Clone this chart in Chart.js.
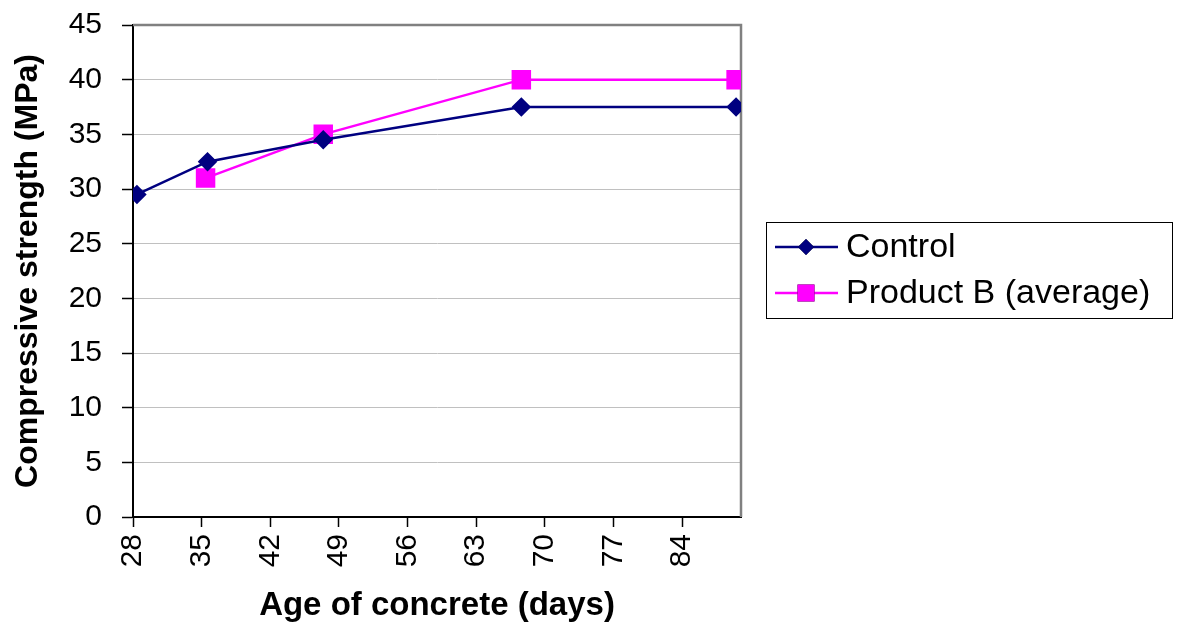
<!DOCTYPE html>
<html>
<head>
<meta charset="utf-8">
<title>Compressive strength</title>
<script src="https://cdn.jsdelivr.net/npm/chart.js@4/dist/chart.umd.min.js"></script>
<style>
  body { margin: 0; background: #fff; }
  #wrap { width: 1180px; height: 628px; }
</style>
</head>
<body>
<div id="wrap"><canvas id="lineChart" width="1180" height="628"></canvas></div>
<script>
// Data
var controlDays = [28.4, 35.6, 47.4, 67.6, 89.5];
var controlValues = [29.5, 32.5, 34.5, 37.5, 37.5];
var productDays = [35.4, 47.4, 67.6, 89.5];
var productValues = [31, 35, 40, 40];
var seriesNames = ['Control', 'Product B (average)'];

var FONT = "'Liberation Sans', Arial, sans-serif";

function toPoints(xs, ys) {
    return xs.map(function (x, i) { return { x: x, y: ys[i] }; });
}

// Gray top/right frame of the plot area
var frame = {
    id: 'frame',
    beforeDatasetsDraw: function (chart) {
        var a = chart.chartArea, ctx = chart.ctx;
        ctx.save();
        ctx.strokeStyle = '#808080';
        ctx.lineWidth = 2.5;
        ctx.beginPath();
        ctx.moveTo(a.left, a.top);
        ctx.lineTo(a.right, a.top);
        ctx.lineTo(a.right, a.bottom);
        ctx.stroke();
        ctx.restore();
    }
};

// Boxed legend on the right
var boxLegend = {
    id: 'boxLegend',
    afterDraw: function (chart) {
        var ctx = chart.ctx;
        var x = 766, y = 222, w = 406, h = 96;
        ctx.save();
        ctx.strokeStyle = '#000';
        ctx.lineWidth = 1;
        ctx.strokeRect(x + 0.5, y + 0.5, w, h);
        chart.data.datasets.forEach(function (ds, i) {
            var cy = y + 25 + i * 46;
            ctx.strokeStyle = ds.borderColor;
            ctx.lineWidth = 2.5;
            ctx.beginPath();
            ctx.moveTo(775, cy);
            ctx.lineTo(838, cy);
            ctx.stroke();
            Chart.helpers.drawPoint(ctx, {
                pointStyle: ds.pointStyle,
                radius: ds.pointRadius,
                borderWidth: 0
            }, 806, cy);
            ctx.fillStyle = ds.pointBackgroundColor;
            ctx.fill();
            ctx.fillStyle = '#000';
            ctx.font = '34px ' + FONT;
            ctx.textBaseline = 'middle';
            ctx.fillText(ds.label, 846, cy + 1);
        });
        ctx.restore();
    }
};

var ctx = document.getElementById('lineChart').getContext('2d');
new Chart(ctx, {
    type: 'scatter',
    data: {
        datasets: [
            {
                label: seriesNames[0],
                data: toPoints(controlDays, controlValues),
                showLine: true,
                borderColor: '#000080',
                backgroundColor: '#000080',
                pointBackgroundColor: '#000080',
                pointBorderColor: '#000080',
                borderWidth: 2.5,
                pointStyle: 'rectRot',
                pointRadius: 8,
                pointHoverRadius: 8
            },
            {
                label: seriesNames[1],
                data: toPoints(productDays, productValues),
                showLine: true,
                borderColor: '#ff00ff',
                backgroundColor: '#ff00ff',
                pointBackgroundColor: '#ff00ff',
                pointBorderColor: '#ff00ff',
                borderWidth: 2.5,
                pointStyle: 'rect',
                pointRadius: 12,
                pointHoverRadius: 12
            }
        ]
    },
    options: {
        responsive: false,
        animation: false,
        layout: { padding: { top: 25, right: 439, left: 9, bottom: 0 } },
        plugins: {
            legend: { display: false },
            tooltip: { enabled: false }
        },
        scales: {
            x: {
                type: 'linear',
                min: 28,
                max: 90,
                afterBuildTicks: function (scale) {
                    var t = [];
                    for (var v = 28; v <= 84; v += 7) t.push({ value: v });
                    scale.ticks = t;
                },
                afterFit: function (scale) {
                    scale.height = 111;
                    scale.paddingLeft = 0;
                    scale.paddingRight = 0;
                },
                grid: {
                    drawOnChartArea: false,
                    drawTicks: true,
                    tickLength: 10,
                    tickColor: '#000',
                    tickWidth: 1.5
                },
                border: { color: '#000', width: 2 },
                ticks: {
                    minRotation: 90,
                    maxRotation: 90,
                    padding: 7,
                    color: '#000',
                    font: { family: FONT, size: 30 }
                },
                title: {
                    display: true,
                    text: 'Age of concrete (days)',
                    color: '#000',
                    padding: { top: 0, bottom: 2 },
                    font: { family: FONT, size: 33, weight: 'bold' }
                }
            },
            y: {
                min: 0,
                max: 45,
                afterFit: function (scale) {
                    scale.width = 124;
                    scale.paddingTop = 0;
                    scale.paddingBottom = 0;
                },
                grid: {
                    color: '#c0c0c0',
                    lineWidth: 1,
                    drawTicks: true,
                    tickLength: 11,
                    tickColor: '#000',
                    tickWidth: 1.5
                },
                border: { color: '#000', width: 2 },
                ticks: {
                    stepSize: 5,
                    padding: 20,
                    color: '#000',
                    font: { family: FONT, size: 30 }
                },
                title: {
                    display: true,
                    text: 'Compressive strength (MPa)',
                    color: '#000',
                    padding: { top: 0, bottom: 0 },
                    font: { family: FONT, size: 32, weight: 'bold' }
                }
            }
        }
    },
    plugins: [frame, boxLegend]
});
</script>
</body>
</html>
